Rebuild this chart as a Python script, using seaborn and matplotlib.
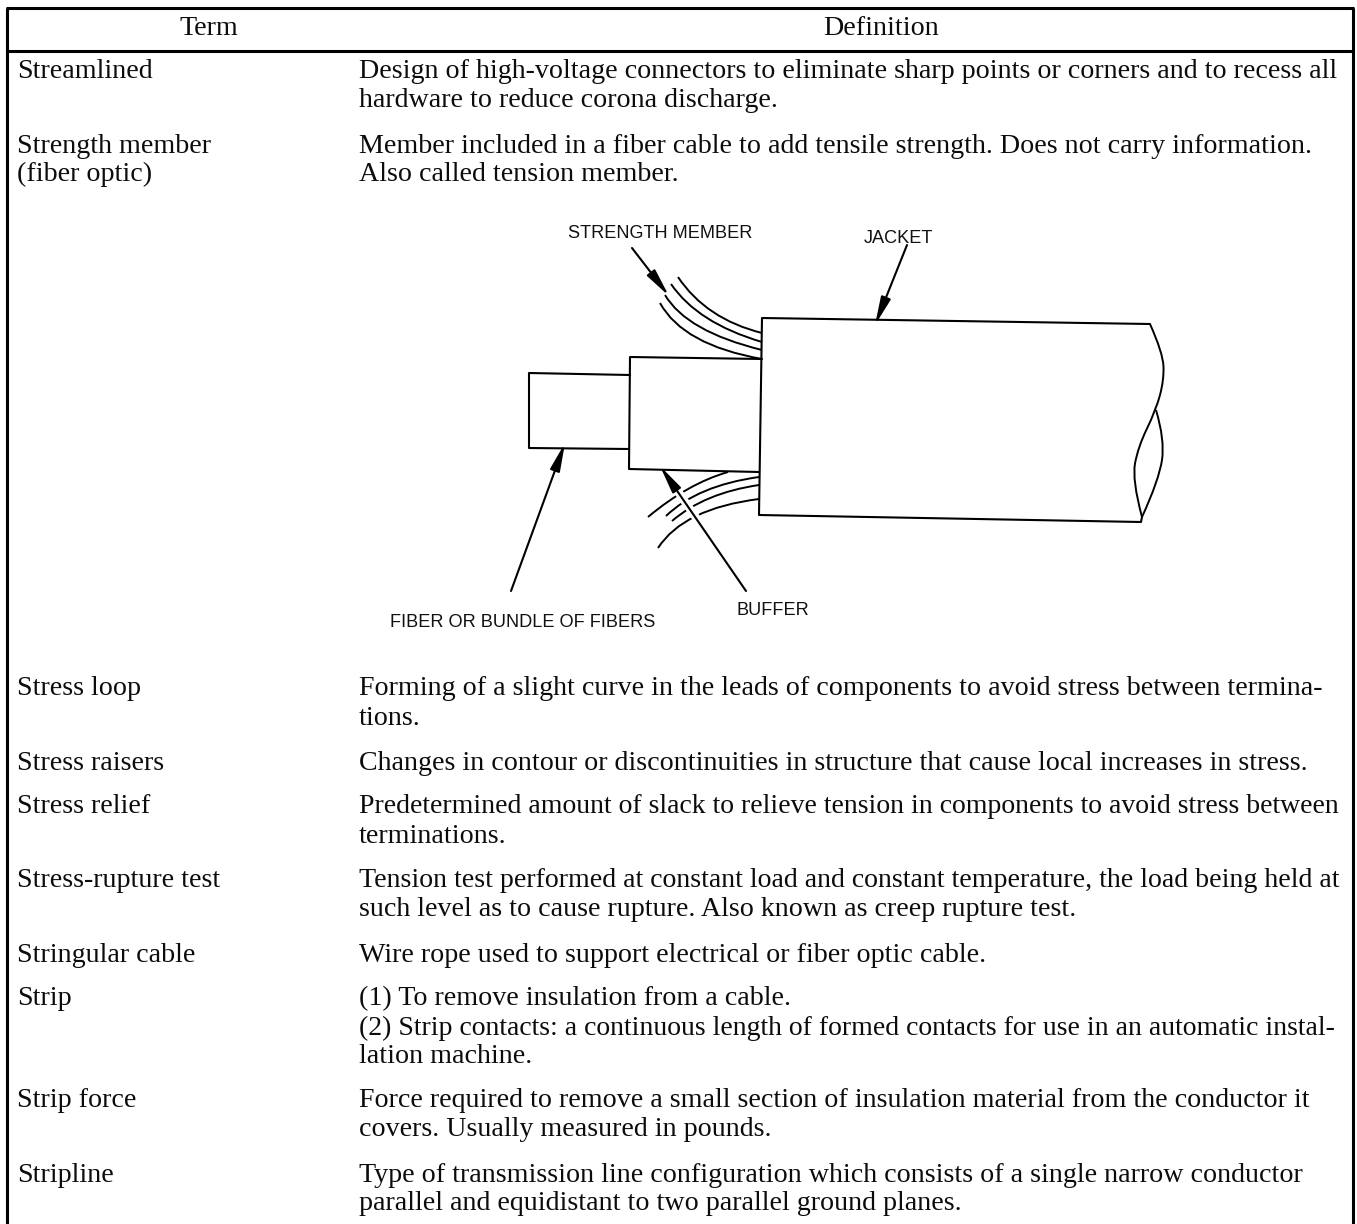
import matplotlib
matplotlib.use('Agg')
import matplotlib.pyplot as plt
import numpy as np
import pandas as pd
import seaborn as sns
from matplotlib.path import Path
from matplotlib.patches import PathPatch

# table text
headers = ['Term', 'Definition']
terms = ['Streamlined', 'Strength member\n(fiber optic)', 'Stress loop', 'Stress raisers',
         'Stress relief', 'Stress-rupture test', 'Stringular cable', 'Strip', 'Strip force', 'Stripline']
definitions = [
    ['Design of high-voltage connectors to eliminate sharp points or corners and to recess all',
     'hardware to reduce corona discharge.'],
    ['Member included in a fiber cable to add tensile strength. Does not carry information.',
     'Also called tension member.'],
    ['Forming of a slight curve in the leads of components to avoid stress between termina-',
     'tions.'],
    ['Changes in contour or discontinuities in structure that cause local increases in stress.'],
    ['Predetermined amount of slack to relieve tension in components to avoid stress between',
     'terminations.'],
    ['Tension test performed at constant load and constant temperature, the load being held at',
     'such level as to cause rupture. Also known as creep rupture test.'],
    ['Wire rope used to support electrical or fiber optic cable.'],
    ['(1) To remove insulation from a cable.',
     '(2) Strip contacts: a continuous length of formed contacts for use in an automatic instal-',
     'lation machine.'],
    ['Force required to remove a small section of insulation material from the conductor it',
     'covers. Usually measured in pounds.'],
    ['Type of transmission line configuration which consists of a single narrow conductor',
     'parallel and equidistant to two parallel ground planes.'],
]
# baseline of every line, read from the page
baselines = [[78, 107], [153, 181], [695, 725], [770], [813, 843], [887, 916],
             [962], [1005, 1035, 1063], [1107, 1136], [1182, 1210]]

# cable drawing, page pixels
fiber_x = [630, 529, 529, 629]
fiber_y = [375, 373, 448, 449]
buffer_x = [762, 630, 629, 759]
buffer_y = [359, 357, 469, 472]
jacket_x = [1150, 762, 759, 1141, 1142]
jacket_y = [324, 318, 515, 522, 517]

end_outer = [(1150, 324), (1163, 353), (1164, 380), (1156, 410), (1138, 447), (1132, 480), (1142, 517)]
end_inner = [(1156, 410), (1165, 440), (1159, 480), (1142, 517)]

# strands as start, middle, end
strands = [
    [(678, 277), (713, 312), (762, 333)],
    [(671, 284), (707, 318), (762, 342)],
    [(665, 295), (700, 327), (762, 350)],
    [(660, 303), (697, 338), (762, 359)],
    [(648, 517), (688, 489), (728, 472)],
    [(666, 516), (705, 491), (759, 477)],
    [(672, 521), (710, 498), (759, 485)],
    [(658, 548), (696, 516), (759, 499)],
]

labels = ['STRENGTH MEMBER', 'JACKET', 'FIBER OR BUNDLE OF FIBERS', 'BUFFER']
label_pos = [(568, 238), (864, 243), (390, 627), (737, 615)]
arrows = [((632, 248), (669, 296)), ((907, 245), (875, 325)),
          ((511, 591), (565, 443)), ((746, 591), (660, 466))]
# part of the buffer leader that clears the strands behind it
buffer_gap = ((719, 551), (679, 493))

sns.set_theme(style='white')
plt.rcParams['font.family'] = ['Liberation Serif', 'DejaVu Serif']

fig, ax = plt.subplots(figsize=(13.57, 12.24), dpi=100)
ax.set_position([0, 0, 1, 1])
ax.set_xlim(0, 1357)
ax.set_ylim(1224, 0)
ax.axis('off')

# table rules
ax.hlines([8, 51], 6, 1354, color='black', lw=2.2)
ax.vlines([7, 1353], 8, 1224, color='black', lw=2.2)

# header and rows
text_size = 20.2
# justified lines in the source run a little tighter
tight_lines = {'Forming': 20.14, 'Predetermined': 19.97, 'Tension': 20.05, '(2)': 20.03}
ax.text(209, 35, headers[0], fontsize=text_size, ha='center', va='baseline', color='#0c0c0c')
ax.text(881, 35, headers[1], fontsize=text_size, ha='center', va='baseline', color='#0c0c0c')
for term, lines, ys in zip(terms, definitions, baselines):
    for i, part in enumerate(term.split('\n')):
        ax.text(17, ys[i], part, fontsize=text_size, va='baseline', color='#0c0c0c')
    for line, y in zip(lines, ys):
        size = tight_lines.get(line.split(' ')[0], text_size)
        ax.text(359, y, line, fontsize=size, va='baseline', color='#0c0c0c')

# cable outlines
for xs, ys in [(fiber_x, fiber_y), (buffer_x, buffer_y), (jacket_x, jacket_y)]:
    outline = pd.DataFrame({'x': xs, 'y': ys})
    sns.lineplot(data=outline, x='x', y='y', sort=False, estimator=None, color='black', lw=1.5, ax=ax)
ax.set_xlim(0, 1357)
ax.set_ylim(1224, 0)


def smooth(points):
    # quadratic pieces through the midpoints of the read points
    pts = np.array(points, dtype=float)
    verts = [pts[0]]
    codes = [Path.MOVETO]
    for i in range(1, len(pts) - 1):
        end = pts[i + 1] if i == len(pts) - 2 else (pts[i] + pts[i + 1]) / 2
        verts += [pts[i], end]
        codes += [Path.CURVE3, Path.CURVE3]
    return Path(verts, codes)


for curve in [end_outer, end_inner]:
    ax.add_patch(PathPatch(smooth(curve), fc='none', ec='black', lw=1.4))
for a, m, b in strands:
    ctrl = 2 * np.array(m) - (np.array(a) + np.array(b)) / 2
    ax.add_patch(PathPatch(smooth([a, ctrl, b]), fc='none', ec='black', lw=1.4))

# leaders and labels
(gx0, gy0), (gx1, gy1) = buffer_gap
ax.plot([gx0, gx1], [gy0, gy1], color='white', lw=6, zorder=2.5)
for start, tip in arrows:
    ax.annotate('', xy=tip, xytext=start,
                arrowprops=dict(arrowstyle='-|>,head_length=1.4,head_width=0.25', color='black',
                                lw=1.5, shrinkA=0, shrinkB=0))
for label, (x, y) in zip(labels, label_pos):
    ax.text(x, y, label, fontsize=13.1, family=['Liberation Sans', 'DejaVu Sans'], va='baseline', color='#111111')

fig.savefig('out.png', dpi=100, facecolor='white')
